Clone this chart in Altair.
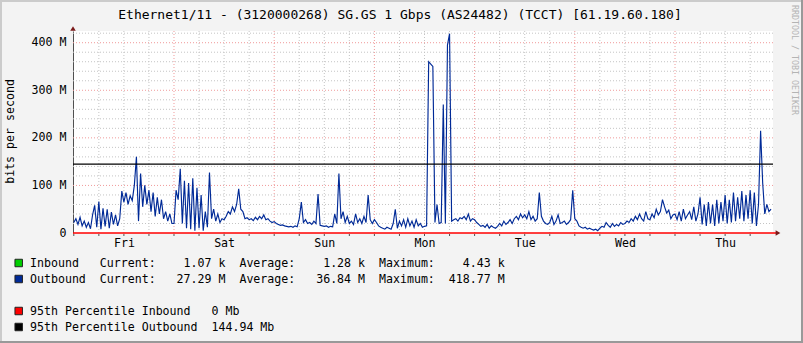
import json
import altair as alt
import pandas as pd

# ---------------- data ----------------
TITLE = "Ethernet1/11 - (3120000268) SG.GS 1 Gbps (AS24482) (TCCT) [61.19.60.180]"
Y_TITLE = "bits per second"
WATERMARK = "RRDTOOL / TOBI OETIKER"
DAYS = ["Fri", "Sat", "Sun", "Mon", "Tue", "Wed", "Thu"]

STEP_HOURS = 0.5  # sample spacing, hours from Friday 00:00

out_fri = [22, 30, 18, 33, 15, 25, 12, 22, 9, 38, 58, 12, 66, 8, 52, 14,
           50, 10, 44, 18, 38, 15, 30, 88, 65, 85, 60, 78, 68, 100, 160, 25,
           125, 55, 100, 60, 90, 45, 85, 35, 75, 40, 70, 30, 45, 25, 40, 20]
out_sat = [20, 90, 70, 135, 20, 110, 10, 105, 8, 115, 5, 95, 10, 80, 5, 45,
           12, 127, 30, 50, 25, 40, 22, 30, 28, 35, 45, 40, 55, 45, 60, 93,
           50, 45, 30, 32, 28, 30, 26, 33, 28, 35, 30, 38, 28, 30, 25, 22]
out_sun = [24, 20, 18, 16, 17, 15, 14, 13, 14, 12, 15, 13, 30, 65, 22, 28,
           20, 22, 18, 25, 20, 82, 16, 15, 14, 15, 12, 14, 13, 40, 20, 125,
           30, 45, 22, 35, 20, 25, 18, 40, 22, 30, 20, 35, 22, 80, 28, 20]
out_mon = [28, 22, 15, 12, 10, 8, 12, 10, 8, 20, 50, 10, 25, 15, 28, 12,
           30, 15, 25, 12, 28, 15, 20, 12, 14, 15, 360, 355, 350, 22, 60, 20,
           22, 270, 20, 395, 419, 25, 28, 30, 25, 32, 30, 35, 28, 40, 25, 30]
out_tue = [28, 22, 18, 14, 16, 12, 18, 10, 15, 12, 10, 14, 20, 15, 25, 18,
           22, 28, 20, 30, 35, 28, 40, 32, 38, 30, 45, 28, 35, 25, 30, 85,
           35, 25, 20, 18, 22, 35, 18, 25, 38, 20, 22, 25, 18, 22, 28, 90]
out_wed = [30, 25, 15, 12, 10, 12, 8, 10, 8, 6, 8, 5, 10, 14, 12, 22,
           16, 12, 20, 14, 18, 15, 22, 18, 20, 25, 22, 30, 25, 35, 28, 40,
           30, 25, 45, 30, 28, 40, 32, 50, 38, 45, 70, 55, 42, 48, 30, 38]
out_thu = [40, 28, 45, 25, 50, 30, 38, 45, 28, 55, 25, 40, 75, 18, 60, 15,
           65, 20, 60, 15, 70, 20, 65, 25, 80, 20, 70, 22, 85, 25, 75, 30,
           88, 25, 80, 30, 90, 20, 85, 15, 60, 215, 105, 40, 60, 45, 50]

OUTBOUND = out_fri + out_sat + out_sun + out_mon + out_tue + out_wed + out_thu
HOURS = [i * STEP_HOURS for i in range(len(OUTBOUND))]

Y_TICKS = [0, 100, 200, 300, 400]
Y_MINOR = [20, 40, 60, 80, 120, 140, 160, 180, 220, 240, 260, 280,
           320, 340, 360, 380, 420]
X_MAJOR = [24, 48, 72, 96, 120, 144]
X_MINOR = [6, 12, 18, 30, 36, 42, 54, 60, 66, 78, 84, 90, 102, 108, 114,
           126, 132, 138, 150, 156, 162]
X_LABEL_POS = [12, 36, 60, 84, 108, 132, 156]

LEG_NAMES = ["Inbound", "Outbound"]
LEG_COLORS = ["#00CF00", "#002A97"]
LEG_CUR = ["1.07 k", "27.29 M"]
LEG_AVG = ["1.28 k", "36.84 M"]
LEG_MAX = ["4.43 k", "418.77 M"]
PCT_NAMES = ["95th Percentile Inbound", "95th Percentile Outbound"]
PCT_VALUES = [0, 144.94]
PCT_COLORS = ["#FF0000", "#000000"]

# ---------------- layout ----------------
W, H = 700, 202
PAD = {"left": 73, "top": 31, "right": 30, "bottom": 110}
X_DOMAIN = [-0.19, 167.47]
Y_DOMAIN = [0, 424.6]
FONT = "DejaVu Sans Mono"
FS = 11.6
NB = "\u00a0"

xs = alt.Scale(domain=X_DOMAIN, nice=False, zero=False)
ys = alt.Scale(domain=Y_DOMAIN, nice=False, zero=False)

X_AXIS = alt.Axis(values=X_LABEL_POS,
                  labelExpr=json.dumps(DAYS) + "[floor(datum.value / 24)]",
                  grid=False, ticks=False, tickSize=0, domain=False,
                  labelFont=FONT, labelFontSize=FS, labelColor="#000000",
                  labelPadding=4, labelAlign="center", labelFlush=False,
                  title=None)
Y_AXIS = alt.Axis(values=Y_TICKS,
                  labelExpr="datum.value == 0 ? '0' : datum.value + ' M'",
                  grid=False, ticks=False, tickSize=0, domain=True,
                  domainColor="#505050", domainWidth=1,
                  labelFont=FONT, labelFontSize=FS, labelColor="#000000",
                  labelPadding=7, labelFlush=False, title=None)


def xq():
    return alt.X("h:Q", scale=xs, axis=X_AXIS, title=None)


def yq():
    return alt.Y("v:Q", scale=ys, axis=Y_AXIS, title=None)


layers = []

# grid
layers.append(alt.Chart(pd.DataFrame({"h": X_MINOR})).mark_rule(
    color="#C4C4C4", strokeDash=[1, 2], strokeWidth=1).encode(x=xq()))
layers.append(alt.Chart(pd.DataFrame({"v": Y_MINOR})).mark_rule(
    color="#C4C4C4", strokeDash=[1, 2], strokeWidth=1).encode(y=yq()))
layers.append(alt.Chart(pd.DataFrame({"h": X_MAJOR})).mark_rule(
    color="#F09A9A", strokeDash=[1, 2], strokeWidth=1).encode(x=xq()))
layers.append(alt.Chart(pd.DataFrame({"v": [t for t in Y_TICKS if t > 0]})).mark_rule(
    color="#F09A9A", strokeDash=[1, 2], strokeWidth=1).encode(y=yq()))

# data line
line_df = pd.DataFrame({"h": HOURS, "v": OUTBOUND})
layers.append(alt.Chart(line_df).mark_line(
    color="#002A97", strokeWidth=1.15, interpolate="linear").encode(
    x=xq(), y=yq()))

# percentile lines
layers.append(alt.Chart(pd.DataFrame({"v": [PCT_VALUES[1]]})).mark_rule(
    color=PCT_COLORS[1], strokeWidth=1.2).encode(y=yq()))
layers.append(alt.Chart(pd.DataFrame({"v": [PCT_VALUES[0]]})).mark_rule(
    color=PCT_COLORS[0], strokeWidth=1.4).encode(
    y=yq(), x=alt.value(0), x2=alt.value(W + 3)))

# x ticks below axis
layers.append(alt.Chart(pd.DataFrame({"h": [0] + X_MINOR + X_MAJOR})).mark_rule(
    color="#505050", strokeWidth=1).encode(
    x=xq(), y=alt.value(H + 1), y2=alt.value(H + 3)))

# arrows
arrow_df = pd.DataFrame({"a": [1]})
layers.append(alt.Chart(arrow_df).mark_point(
    shape="triangle-up", filled=True, color="#7A1A1A", size=30, opacity=1).encode(
    x=alt.value(0), y=alt.value(-2.5)))
layers.append(alt.Chart(arrow_df).mark_point(
    shape="triangle-right", filled=True, color="#7A1A1A", size=30, opacity=1).encode(
    x=alt.value(W + 5), y=alt.value(H)))

# title
layers.append(alt.Chart(pd.DataFrame({"t": [TITLE]})).mark_text(
    font=FONT, fontSize=13, color="#000000", align="center", baseline="alphabetic").encode(
    text="t:N", x=alt.value(400 - PAD["left"]), y=alt.value(18.5 - PAD["top"])))
# y title
layers.append(alt.Chart(pd.DataFrame({"t": [Y_TITLE]})).mark_text(
    font=FONT, fontSize=FS, color="#000000", align="center", baseline="middle", angle=270).encode(
    text="t:N", x=alt.value(11 - PAD["left"]), y=alt.value(131.5 - PAD["top"])))
# watermark
layers.append(alt.Chart(pd.DataFrame({"t": [WATERMARK]})).mark_text(
    font=FONT, fontSize=8.3, color="#B4B4B4", align="center", baseline="middle", angle=90).encode(
    text="t:N", x=alt.value(793.5 - PAD["left"]), y=alt.value(60 - PAD["top"])))

# legend
legend_rows = []
for name, cur, avg, mx, col in zip(LEG_NAMES, LEG_CUR, LEG_AVG, LEG_MAX, LEG_COLORS):
    s = name.ljust(10) + "Current:" + cur.rjust(10) + "  Average:" + avg.rjust(10) + "  Maximum:" + mx.rjust(10)
    legend_rows.append((s, col))
pct_rows = []
for name, val, col in zip(PCT_NAMES, PCT_VALUES, PCT_COLORS):
    s = name.ljust(26) + f"{val:g} Mb"
    pct_rows.append((s, col))

baselines = [267, 283, 315, 331]
for (s, col), base in zip(legend_rows + pct_rows, baselines):
    layers.append(alt.Chart(pd.DataFrame({"t": [s.replace(" ", NB)]})).mark_text(
        font=FONT, fontSize=FS, color="#000000", align="left", baseline="alphabetic").encode(
        text="t:N", x=alt.value(30 - PAD["left"]), y=alt.value(base - PAD["top"])))
    layers.append(alt.Chart(pd.DataFrame({"c": [col]})).mark_square(
        size=56, filled=True, opacity=1, stroke="#222222", strokeWidth=1).encode(
        color=alt.Color("c:N", scale=None),
        x=alt.value(18.7 - PAD["left"]), y=alt.value(base - 4 - PAD["top"])))

# image frame shading
TW = W + PAD["left"] + PAD["right"]
TH = H + PAD["top"] + PAD["bottom"]
frame = [
    ("#CBCBCB", (1 - PAD["left"], 1 - PAD["left"]), (-PAD["top"], TH - PAD["top"])),
    ("#CBCBCB", (-PAD["left"], TW - PAD["left"]), (1 - PAD["top"], 1 - PAD["top"])),
    ("#999999", (TW - 1 - PAD["left"], TW - 1 - PAD["left"]), (-PAD["top"], TH - PAD["top"])),
    ("#999999", (-PAD["left"], TW - PAD["left"]), (TH - 1 - PAD["top"], TH - 1 - PAD["top"])),
]
for col, (fx1, fx2), (fy1, fy2) in frame:
    layers.append(alt.Chart(arrow_df).mark_rule(color=col, strokeWidth=2).encode(
        x=alt.value(fx1), x2=alt.value(fx2), y=alt.value(fy1), y2=alt.value(fy2)))

chart = alt.layer(*layers).properties(
    width=W, height=H,
    autosize=alt.AutoSizeParams(type="none"),
    padding=PAD,
    background="#F3F3F3",
).configure_view(fill="white", stroke=None)

chart.save("out.html", embed_options={"renderer": "svg", "actions": False})
